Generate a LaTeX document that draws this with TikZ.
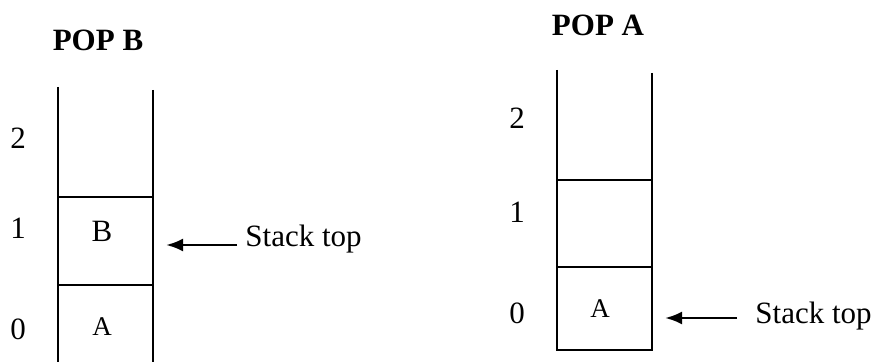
\documentclass[tikz,border=0pt]{standalone}
\usepackage{fontspec}
\setmainfont{Liberation Serif}
\usepackage{tikz}
\usetikzlibrary{arrows.meta}
\newcommand*{\bigsz }{\fontsize{15.5}{18}\selectfont}
\newcommand*{\cellsz}{\fontsize{13.5}{16}\selectfont}
\tikzset{
    wall/.style   = {line width=0.9pt},
    shelf/.style  = {line width=0.7pt},
    pointer/.style= {line width=1.4pt, -{Latex[length=8.5pt,width=6.5pt]}},
    title/.style  = {font=\bigsz\bfseries},
    index/.style  = {font=\bigsz},
    item/.style   = {font=\cellsz},
    toplbl/.style = {font=\bigsz, anchor=base west, inner sep=0pt}
}

\begin{document}
\begin{tikzpicture}[x=0.5pt, y=-0.5pt]
    \useasboundingbox (0,0) rectangle (877,362);
    % left stack, after POP B
        \node [title] (popB) at (98,40) {POP B};
        \draw [wall] (58,87) -- (58,362);
        \draw [wall] (153,90) -- (153,362);
        \draw [shelf] (58,197) -- (153,197);
        \draw [shelf] (58,285) -- (153,285);
        \node [index] (iB2) at (18,138) {2};
        \node [index] (iB1) at (18,228) {1};
        \node [index] (iB0) at (18,329) {0};
        \node [index] (cellB) at (102,231) {B};
        \node [item]  (cellA) at (102,327) {A};
        \node [toplbl] (topB) at (245,247) {Stack top};
        \coordinate (tailB) at (237,245);
        \coordinate (tipB)  at (166,245);
        \draw [pointer] (tailB) -- (tipB);
    % right stack, after POP A
        \node [title] (popA) at (598,25) {POP A};
        \draw [wall] (557,70) -- (557,351);
        \draw [wall] (652,73) -- (652,351);
        \draw [shelf] (557,180) -- (652,180);
        \draw [shelf] (557,267) -- (652,267);
        \draw [wall] (557,350) -- (652,350);
        \node [index] (iA2) at (517,118) {2};
        \node [index] (iA1) at (517,212) {1};
        \node [index] (iA0) at (517,313) {0};
        \node [item]  (cellAA) at (600,309) {A};
        \node [toplbl] (topA) at (755,324) {Stack top};
        \coordinate (tailA) at (737,318);
        \coordinate (tipA)  at (665,318);
        \draw [pointer] (tailA) -- (tipA);
        %\draw [help lines] (0,0) grid (877,362);
\end{tikzpicture}
\end{document}
